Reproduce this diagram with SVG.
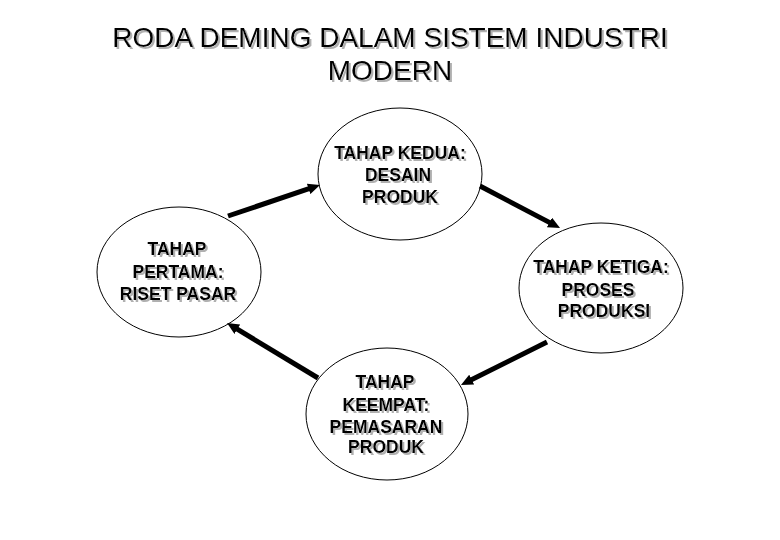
<svg xmlns="http://www.w3.org/2000/svg" width="780" height="540" viewBox="0 0 780 540">
<defs>
<style>
.title{font-family:"Liberation Sans",Arial,sans-serif;font-size:28px;fill:#000;text-anchor:middle;filter:url(#sh)}
.lbl{font-family:"Liberation Sans",Arial,sans-serif;font-size:17.5px;font-weight:bold;fill:#000;text-anchor:middle;filter:url(#sh)}
.node ellipse{fill:#fff;stroke:#000;stroke-width:1}
.conn line{stroke:#000;stroke-width:5;marker-end:url(#ah)}
</style>
<filter id="sh" x="-10%" y="-30%" width="120%" height="160%">
<feOffset in="SourceAlpha" dx="2" dy="2" result="o"/>
<feFlood flood-color="#b0b0b0"/>
<feComposite in2="o" operator="in" result="s"/>
<feMerge><feMergeNode in="s"/><feMergeNode in="SourceGraphic"/></feMerge>
</filter>
<marker id="ah" markerUnits="userSpaceOnUse" markerWidth="12" markerHeight="11" refX="2" refY="5.5" orient="auto">
<path d="M0,0 L12,5.5 L0,11 z" fill="#000"/>
</marker>
</defs>
<rect width="780" height="540" fill="#fff"/>
<g id="title">
<text class="title" x="390" y="47">RODA DEMING DALAM SISTEM INDUSTRI</text>
<text class="title" x="390" y="80">MODERN</text>
</g>
<g id="node-kedua" class="node">
<ellipse cx="400" cy="174" rx="82" ry="66"/>
<text class="lbl" x="400" y="159">TAHAP KEDUA:</text>
<text class="lbl" x="398" y="181">DESAIN</text>
<text class="lbl" x="400" y="203">PRODUK</text>
</g>
<g id="node-pertama" class="node">
<ellipse cx="179" cy="272" rx="82" ry="65"/>
<text class="lbl" x="177" y="255">TAHAP</text>
<text class="lbl" x="178" y="278">PERTAMA:</text>
<text class="lbl" x="178" y="300">RISET PASAR</text>
</g>
<g id="node-ketiga" class="node">
<ellipse cx="601" cy="288" rx="82" ry="65"/>
<text class="lbl" x="601" y="273">TAHAP KETIGA:</text>
<text class="lbl" x="598" y="296">PROSES</text>
<text class="lbl" x="604" y="317">PRODUKSI</text>
</g>
<g id="node-keempat" class="node">
<ellipse cx="387" cy="414" rx="81" ry="66"/>
<text class="lbl" x="385" y="388">TAHAP</text>
<text class="lbl" x="386" y="411">KEEMPAT:</text>
<text class="lbl" x="386" y="433">PEMASARAN</text>
<text class="lbl" x="386" y="453">PRODUK</text>
</g>
<g id="connectors" class="conn">
<line x1="228" y1="216" x2="310.5" y2="188.2"/>
<line x1="480" y1="186" x2="551.2" y2="223.4"/>
<line x1="547" y1="342" x2="469.9" y2="380.5"/>
<line x1="318" y1="378" x2="235.6" y2="328.2"/>
</g>
</svg>
